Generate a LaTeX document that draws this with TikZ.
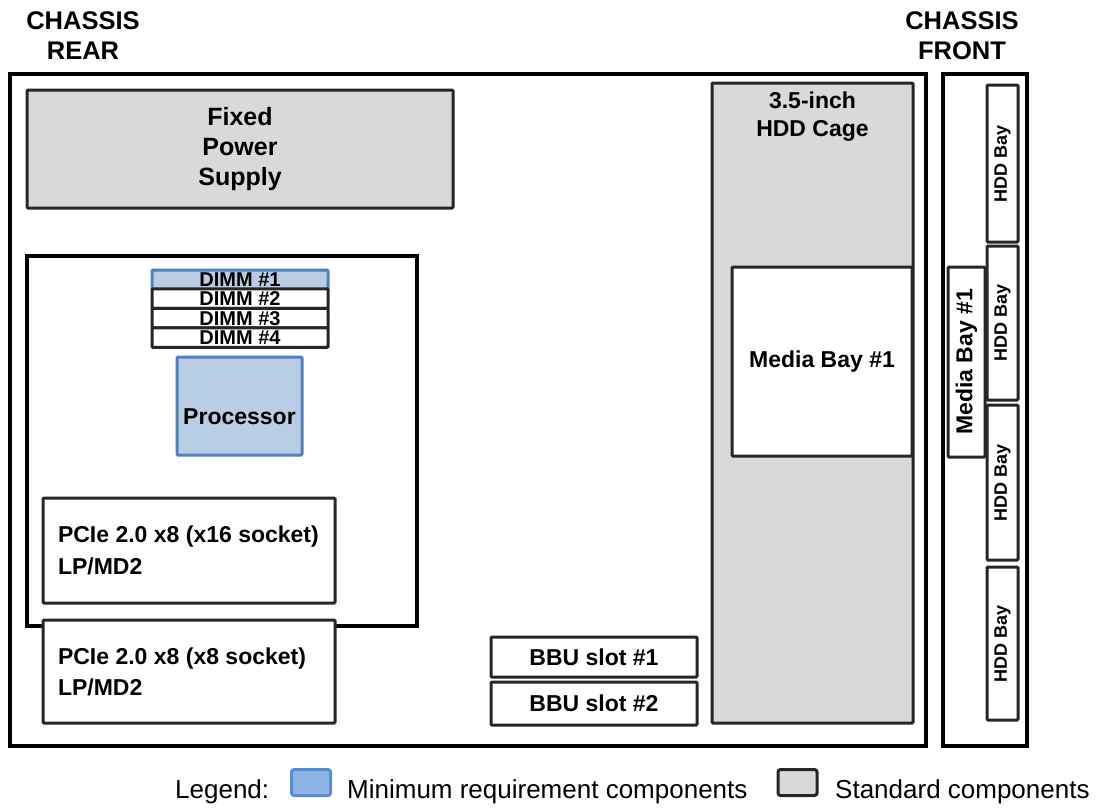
\documentclass[tikz,border=0pt]{standalone}
\usepackage{fontspec}
\setmainfont{Liberation Sans}
\usepackage{tikz}
\usepackage{xcolor}
\definecolor{stdgray}{HTML}{D9D9D9}
\definecolor{darkline}{HTML}{262626}
\definecolor{minblue}{HTML}{4F81BD}
\definecolor{minfill}{HTML}{B9CDE5}
\definecolor{legblue}{HTML}{558ED5}
\definecolor{legfill}{HTML}{8EB4E3}
\tikzstyle{frame} = [draw=black, line width=4pt, inner sep=0pt]
\tikzstyle{stdbox} = [draw=darkline, line width=3pt, fill=stdgray, rounded corners=1pt, inner sep=0pt, align=center, font=\bfseries\fontsize{23}{30}\selectfont]
\tikzstyle{plainbox} = [stdbox, fill=white]
\tikzstyle{minbox} = [stdbox, draw=minblue, fill=minfill]
\tikzstyle{dimm} = [plainbox, minimum width=176, minimum height=19.5, font=\bfseries\fontsize{20}{20}\selectfont]
\tikzstyle{hdd} = [plainbox, rotate=90, minimum height=31, font=\bfseries\fontsize{18}{20}\selectfont]
\tikzstyle{title} = [align=center, font=\bfseries\fontsize{25.5}{30}\selectfont]
\tikzstyle{legtext} = [anchor=base west, inner sep=0pt, font=\fontsize{26}{28}\selectfont]
\tikzstyle{legbox} = [line width=3pt, rounded corners=2.5pt, minimum width=39, minimum height=26, inner sep=0pt]

\begin{document}
\begin{tikzpicture}[x=1pt, y=-1pt]
		\useasboundingbox (0,0) rectangle (1100,807);

		%Chassis
		\node[frame, minimum width=916, minimum height=672] (chassis) at (468,410) {};
		\node[frame, minimum width=84, minimum height=672] (front) at (985,410) {};
		\node[title] (rear_lbl) at (83,36) {CHASSIS\\REAR};
		\node[title] (front_lbl) at (962,36) {CHASSIS\\FRONT};

		%Power supply
		\node[stdbox, minimum width=426, minimum height=118, font=\bfseries\fontsize{25}{30}\selectfont] (psu) at (240,149) {Fixed\\Power\\Supply};

		%System board
		\node[frame, minimum width=390, minimum height=370] (board) at (222,441) {};
		\node[minbox, minimum width=176, minimum height=20, font=\bfseries\fontsize{20}{20}\selectfont] (dimm1) at (240,280) {DIMM \#1};
		\node[dimm] (dimm2) at (240,298.7) {DIMM \#2};
		\node[dimm] (dimm3) at (240,318.2) {DIMM \#3};
		\node[dimm] (dimm4) at (240,337.7) {DIMM \#4};
		\node[minbox, minimum width=125, minimum height=98,
			label={[yshift=-11, font=\bfseries\fontsize{23}{30}\selectfont]center:Processor}] (cpu) at (239.5,406) {};

		%PCIe slots
		\node[plainbox, minimum width=292, minimum height=105,
			label={[anchor=west, align=left, xshift=13, font=\bfseries\fontsize{23}{32}\selectfont]west:PCIe 2.0 x8 (x16 socket)\\LP/MD2}] (pcie_a) at (189,550.5) {};
		\node[plainbox, minimum width=292, minimum height=103,
			label={[anchor=west, align=left, xshift=13, font=\bfseries\fontsize{23}{31}\selectfont]west:PCIe 2.0 x8 (x8 socket)\\LP/MD2}] (pcie_b) at (189,671.5) {};

		%BBU
		\node[plainbox, minimum width=206, minimum height=40] (bbu1) at (594,657) {BBU slot \#1};
		\node[plainbox, minimum width=206, minimum height=43] (bbu2) at (594,703.5) {BBU slot \#2};

		%HDD cage
		\node[stdbox, minimum width=201, minimum height=640,
			label={[anchor=north, align=center, yshift=-7, font=\bfseries\fontsize{23}{28}\selectfont]north:3.5-inch\\HDD Cage}] (cage) at (812.5,403) {};
		\node[plainbox, minimum width=180, minimum height=189] (mbay) at (822,361.5) {Media Bay \#1};

		%Front bays
		\node[plainbox, rotate=90, minimum width=190, minimum height=37] (mbay_f) at (966.5,362) {Media Bay \#1};
		\node[hdd, minimum width=157] (hdd1) at (1002.5,163.5) {HDD Bay};
		\node[hdd, minimum width=154] (hdd2) at (1002.5,323) {HDD Bay};
		\node[hdd, minimum width=155] (hdd3) at (1002.5,482.5) {HDD Bay};
		\node[hdd, minimum width=153] (hdd4) at (1002.5,643.5) {HDD Bay};

		%Legend
		\node[legtext] (leg) at (175,798) {Legend:};
		\node[legbox, draw=legblue, fill=legfill] (leg_min) at (311,782.5) {};
		\node[legtext] (leg_min_txt) at (347,798) {Minimum requirement components};
		\node[legbox, draw=darkline, fill=stdgray] (leg_std) at (797.5,782.5) {};
		\node[legtext] (leg_std_txt) at (835,798) {Standard components};
	\end{tikzpicture}
\end{document}
